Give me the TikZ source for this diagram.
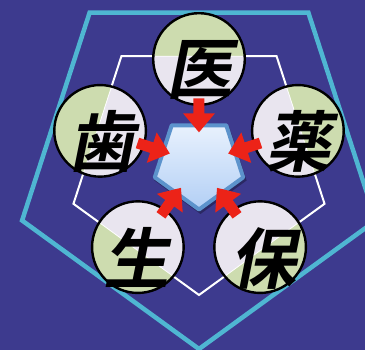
\documentclass[tikz,border=0pt]{standalone}
\usepackage{fontspec}
\newfontfamily\cjk[FakeSlant=0.2]{Noto Sans CJK JP Bold}
\definecolor{bg}{HTML}{3D3A8E}
\definecolor{cyanline}{HTML}{4FB6D2}
\definecolor{leafgreen}{HTML}{CDDCAF}
\definecolor{lav}{HTML}{E9E5EF}
\definecolor{arrowred}{HTML}{EC2318}
\definecolor{coreedge}{HTML}{5C93CC}
\definecolor{coretop}{HTML}{E8F1FD}
\definecolor{corebot}{HTML}{B2CFF5}
\begin{document}
\begin{tikzpicture}[x=1pt,y=1pt,
  ring/.style={circle, draw=black, line width=2.4pt, minimum size=91.6pt, inner sep=0pt},
  glyph/.style={font=\cjk\fontsize{66}{66}\selectfont, inner sep=0pt, text=black},
  redarrow/.style={fill=arrowred}]
\useasboundingbox (-199,-187) rectangle (166,163);
\clip (-199,-187) rectangle (166,163);
\fill[bg] (-199,-187) rectangle (166,163);
% outer pentagons
\draw[cyanline, line width=4.5pt, line join=miter]
  (270:186) -- (342:186) -- (54:186) -- (126:186) -- (198:186) -- cycle;
\draw[white, line width=2pt]
  (270:132) -- (342:132) -- (54:132) -- (126:132) -- (198:132) -- cycle;
% core shape
\fill[black, opacity=.3, shift={(1.5,-2.5)}]
  (270:48.5) -- (342:48.5) -- (54:48.5) -- (126:48.5) -- (198:48.5) -- cycle;
\shade[top color=coretop, bottom color=corebot, draw=coreedge, line width=4pt, line join=round]
  (270:46.5) -- (342:46.5) -- (54:46.5) -- (126:46.5) -- (198:46.5) -- cycle;
\coordinate (core) at (0,0);
% circle fills
\foreach \a in {90,18,162,234,306} {
  \begin{scope}
    \clip (\a:104) circle (46);
    \fill[leafgreen] (\a:104) circle (46);
    \fill[lav] (270:132) -- (342:132) -- (54:132) -- (126:132) -- (198:132) -- cycle;
    \draw[white, line width=0.8pt] (270:132) -- (342:132) -- (54:132) -- (126:132) -- (198:132) -- cycle;
  \end{scope}
}
\foreach \a [count=\i] in {90,18,162,234,306} {
  \node[ring] (c\i) at (\a:104) {};
}
% arrows
\foreach \a in {90,18,162,234,306} {
  \fill[redarrow, rotate=\a] (64.7,5.5) -- (49.7,5.5) -- (49.7,16) -- (30.7,0)
    -- (49.7,-16) -- (49.7,-5.5) -- (64.7,-5.5) -- cycle;
}
% glyphs
\node[glyph, xshift=1pt, yshift=-11pt] (t1) at (c1) {医};
\node[glyph, xshift=1pt, yshift=-11pt] (t2) at (c2) {薬};
\node[glyph, xshift=1pt, yshift=-11pt] (t3) at (c3) {歯};
\node[glyph, xshift=-1pt, yshift=-10pt] (t4) at (c4) {生};
\node[glyph, xshift=3pt, yshift=-11pt] (t5) at (c5) {保};
\end{tikzpicture}
\end{document}
